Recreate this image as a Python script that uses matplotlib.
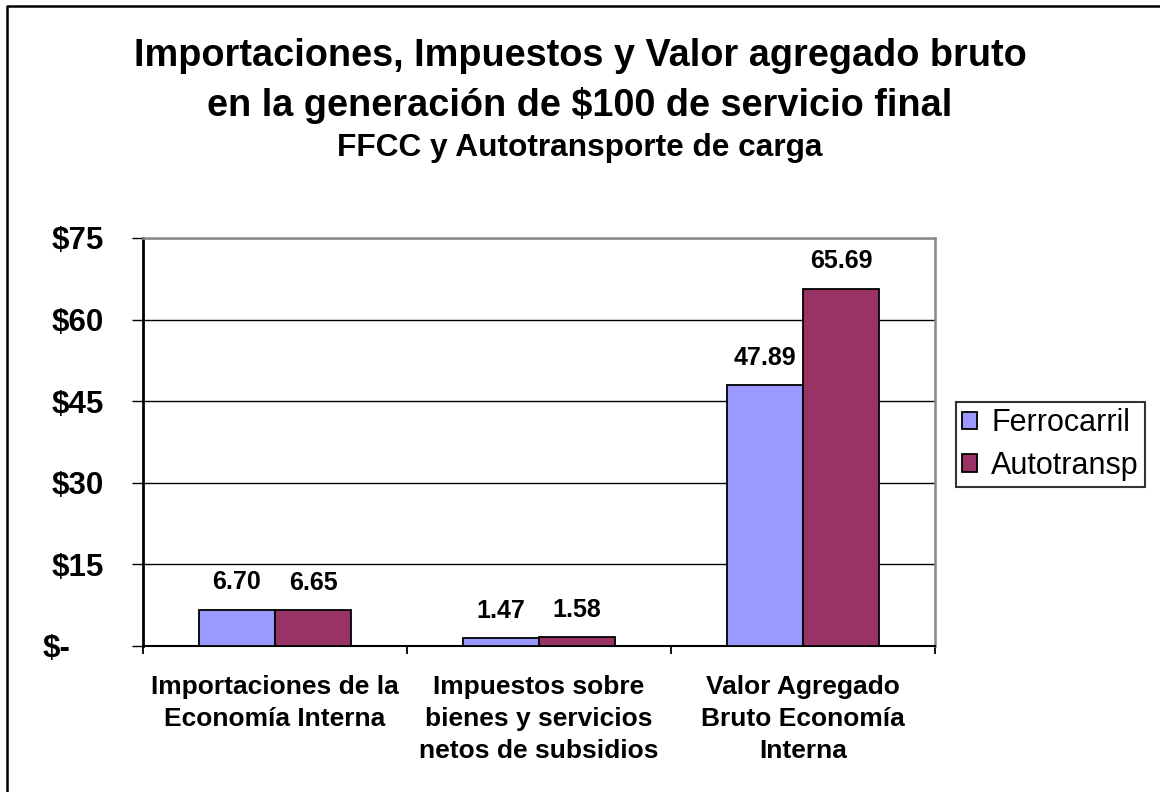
import matplotlib
matplotlib.use("Agg")
import matplotlib.pyplot as plt
import numpy as np
from matplotlib.lines import Line2D
from matplotlib.transforms import ScaledTranslation

plt.rcParams['font.family'] = ['Liberation Sans', 'DejaVu Sans']

# ---------------- datos ----------------
categorias = ["Importaciones de la\nEconomía Interna",
              "Impuestos sobre\nbienes y servicios\nnetos de subsidios",
              "Valor Agregado\nBruto Economía\nInterna"]
ferrocarril = [6.70, 1.47, 47.89]
autotransp = [6.65, 1.58, 65.69]
series = ["Ferrocarril", "Autotransp"]
yticks = [0, 15, 30, 45, 60, 75]
ytick_labels = ["$-", "$15", "$30", "$45", "$60", "$75"]

col_f = "#9999FF"
col_a = "#993366"

fig = plt.figure(figsize=(11.6, 7.92), dpi=100)
W, H = 1160, 792
# marco exterior (solo arriba e izquierda quedan dentro de la imagen)
fig.lines.append(Line2D([6.5 / W, 6.5 / W, 1.0], [0.0, 1 - 5.5 / H, 1 - 5.5 / H],
                        transform=fig.transFigure, color="black", linewidth=1.8))

ax = fig.add_axes([143 / W, 1 - 646 / H, (935 - 143) / W, (646 - 238) / H])

x = np.arange(len(categorias))
w = 0.288
b1 = ax.bar(x - w / 2, ferrocarril, w, color=col_f, edgecolor="black", linewidth=1.3,
            label=series[0], zorder=3)
b2 = ax.bar(x + w / 2, autotransp, w, color=col_a, edgecolor="black", linewidth=1.3,
            label=series[1], zorder=3)

for bars, vals in ((b1, ferrocarril), (b2, autotransp)):
    for r, v in zip(bars, vals):
        ax.text(r.get_x() + r.get_width() / 2, v + 5.0, f"{v:.2f}", ha="center", va="center",
                fontsize=18, fontweight="bold")

ax.set_xlim(-0.5, 2.5)
ax.set_ylim(0, 75)
ax.set_yticks(yticks)
ax.set_yticklabels(ytick_labels, fontsize=22.5, fontweight="bold")
ax.yaxis.grid(True, color="black", linewidth=1.0, zorder=0)
ax.set_axisbelow(True)

ax.set_xticks([-0.5, 0.5, 1.5, 2.5], minor=False)
ax.set_xticklabels([])
ax.set_xticks(x, minor=True)
ax.set_xticklabels(categorias, minor=True, fontsize=19, fontweight="bold", linespacing=1.42)
ax.tick_params(axis="x", which="minor", length=0, pad=21)
ax.tick_params(axis="x", which="major", length=6, width=1.3, direction="out")
ax.tick_params(axis="y", length=8, width=1.0, direction="out", pad=20)

# "$-" en formato contable queda mas a la izquierda
lab0 = ax.get_yticklabels()[0]
lab0.set_transform(lab0.get_transform() + ScaledTranslation(-0.34, 0, fig.dpi_scale_trans))

ax.spines["left"].set_linewidth(2.0)
ax.spines["bottom"].set_linewidth(1.5)
ax.spines["right"].set_color("#888888")
ax.spines["right"].set_linewidth(1.8)
ax.spines["top"].set_color("#888888")
ax.spines["top"].set_linewidth(1.8)

leg = ax.legend(loc="upper left", bbox_to_anchor=(956 / W, 1 - 402 / H),
                bbox_transform=fig.transFigure, borderaxespad=0, fontsize=22, frameon=True,
                fancybox=False, edgecolor="black", handlelength=0.5, handleheight=0.5,
                handletextpad=0.45, labelspacing=0.42, borderpad=0.2)
leg.get_frame().set_linewidth(1.5)
for p in leg.get_patches():
    p.set_linewidth(1.3)

fig.text(0.5, 1 - 66 / H, "Importaciones, Impuestos y Valor agregado bruto",
         ha="center", va="baseline", fontsize=27.3, fontweight="bold")
fig.text(0.5, 1 - 116 / H, "en la generación de $100 de servicio final",
         ha="center", va="baseline", fontsize=27.3, fontweight="bold")
fig.text(0.5, 1 - 156 / H, "FFCC y Autotransporte de carga",
         ha="center", va="baseline", fontsize=22.8, fontweight="bold")

fig.savefig("out.png", dpi=100)
